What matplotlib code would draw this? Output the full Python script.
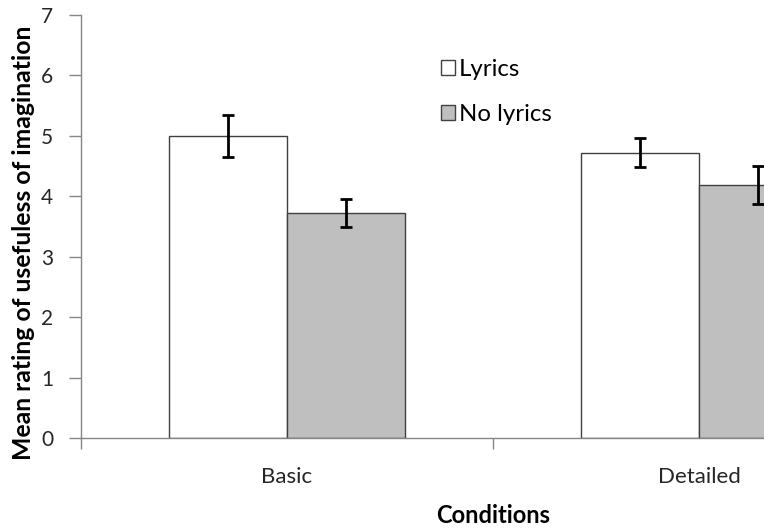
import matplotlib
matplotlib.use("Agg")
import matplotlib.pyplot as plt
import numpy as np

conditions = ["Basic", "Detailed"]
series = ["Lyrics", "No lyrics"]
lyrics_mean = [5.00, 4.72]
lyrics_err = [0.35, 0.24]
nolyrics_mean = [3.72, 4.19]
nolyrics_err = [0.23, 0.31]
y_ticks = [0, 1, 2, 3, 4, 5, 6, 7]

plt.rcParams["font.family"] = ["Lato", "DejaVu Sans"]

fig = plt.figure(figsize=(7.64, 5.28), dpi=100)
# The plot area runs past the right edge of the canvas
ax = fig.add_axes([81 / 764, 90 / 528, 824 / 764, 423 / 528])

x = np.arange(len(conditions))
w = 0.286
axis_grey = "#868686"
edge = "#404040"
text_col = "#262626"

ax.bar(x - w / 2, lyrics_mean, w, color="white", edgecolor=edge, linewidth=1.0,
       label=series[0], zorder=2)
ax.bar(x + w / 2, nolyrics_mean, w, color="#bfbfbf", edgecolor=edge, linewidth=1.0,
       label=series[1], zorder=2)
ax.errorbar(x - w / 2, lyrics_mean, yerr=lyrics_err, fmt="none", ecolor="black",
            elinewidth=2, capsize=4.3, capthick=2, zorder=3)
ax.errorbar(x + w / 2, nolyrics_mean, yerr=nolyrics_err, fmt="none", ecolor="black",
            elinewidth=2, capsize=4.3, capthick=2, zorder=3)

ax.set_xlim(-0.5, 1.5)
ax.set_ylim(0, 7)
ax.set_yticks(y_ticks)
ax.set_yticklabels([str(v) for v in y_ticks], fontsize=15, color=text_col)
ax.tick_params(axis="y", length=9, width=1, color=axis_grey, pad=11)

ax.set_xticks([-0.5, 0.5, 1.5])
ax.set_xticklabels([])
ax.tick_params(axis="x", which="major", length=8, width=1, color=axis_grey)
ax.set_xticks(x, minor=True)
ax.set_xticklabels(conditions, minor=True, fontsize=16, color=text_col)
ax.tick_params(axis="x", which="minor", length=0, pad=21)

for s in ["top", "right"]:
    ax.spines[s].set_visible(False)
for s in ["left", "bottom"]:
    ax.spines[s].set_color(axis_grey)
    ax.spines[s].set_linewidth(1)

ax.set_ylabel("Mean rating of usefuless of imagination", fontsize=17.8,
              fontweight="bold", color="black")
ax.yaxis.set_label_coords(-0.056, 0.461)
ax.set_xlabel("Conditions", fontsize=17, fontweight="bold", labelpad=12,
              color="black")

fig.legend(loc="upper left", bbox_to_anchor=(441 / 764, 1 - 59 / 528),
           frameon=False, fontsize=17.3, handlelength=0.6, handleheight=0.6,
           handletextpad=0.15, labelspacing=1.0, borderpad=0, borderaxespad=0)

fig.savefig("out.png", dpi=100)
